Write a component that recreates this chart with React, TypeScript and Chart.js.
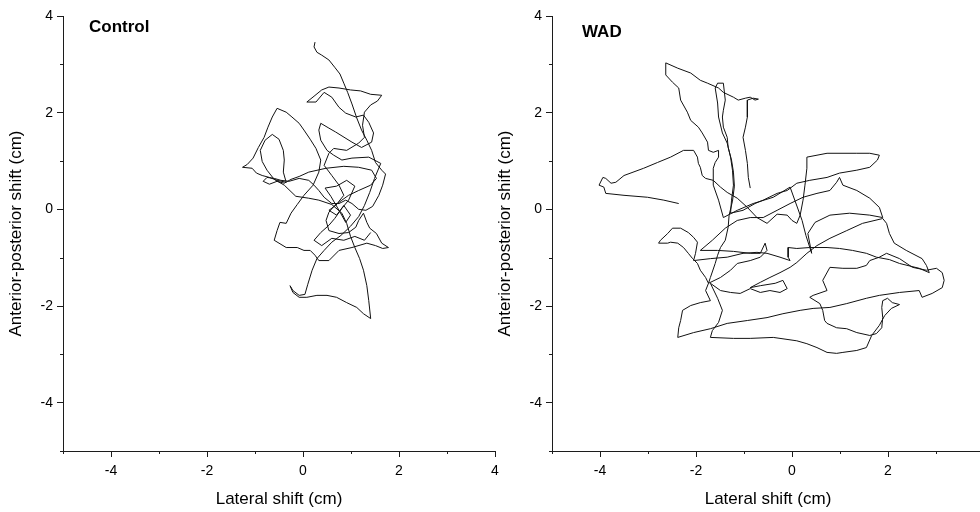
import React, { useEffect, useRef } from 'react';
import { Chart, registerables } from 'chart.js';

Chart.register(...registerables);

// Axis ranges and labelled ticks (cm)
const axisMin = -5;
const axisMax = 4;
const labelledTicks = [-4, -2, 0, 2, 4];

const panelTitles = ['Control', 'WAD'];
const xTitle = 'Lateral shift (cm)';
const yTitle = 'Anterior-posterior shift (cm)';

// Centre-of-pressure trace, Control subject: [lateral, anterior-posterior] (cm)
const controlPath: [number, number][] = [
  [0.25, 3.46], [0.23, 3.36], [0.29, 3.25], [0.39, 3.19], [0.54, 3.09], [0.66, 2.94], [0.77, 2.8], [0.85, 2.61], [0.93, 2.42], [1.02, 2.18],
  [1.12, 1.89], [1.22, 1.64], [1.33, 1.43], [1.43, 1.22], [1.51, 0.97], [1.64, 0.81], [1.72, 0.73], [1.66, 0.5], [1.58, 0.29], [1.45, 0.06],
  [1.31, -0.02], [1.16, 0], [1.02, 0.12], [0.89, 0.19], [0.75, 0.12], [0.6, 0.12], [0.44, 0.25], [0.33, 0.39], [0.23, 0.5], [0.12, 0.6],
  [-0.08, 0.64], [-0.29, 0.58], [-0.46, 0.6], [-0.6, 0.64], [-0.75, 0.66], [-0.83, 0.58], [-0.7, 0.52], [-0.54, 0.58], [-0.39, 0.54], [-0.25, 0.62],
  [-0.08, 0.68], [0.12, 0.77], [0.48, 0.85], [0.85, 0.89], [1.16, 0.87], [1.43, 0.81], [1.53, 0.64], [1.41, 0.5], [1.16, 0.39], [0.95, 0.29],
  [0.81, 0.19], [0.64, 0.06], [0.54, -0.06], [0.48, -0.23], [0.54, -0.44], [0.75, -0.5], [0.95, -0.48], [1.1, -0.37], [1.16, -0.23], [1.26, -0.08],
  [1.33, -0.27], [1.39, -0.39], [1.53, -0.5], [1.64, -0.7], [1.78, -0.79], [1.66, -0.81], [1.51, -0.75], [1.33, -0.7], [1.02, -0.79], [0.75, -0.85],
  [0.54, -1.06], [0.33, -1.06], [0.25, -0.95], [0.15, -0.85], [0.02, -0.85], [-0.12, -0.79], [-0.35, -0.79], [-0.5, -0.7], [-0.6, -0.64], [-0.54, -0.44],
  [-0.48, -0.27], [-0.35, -0.29], [-0.25, -0.08], [-0.12, 0.1], [0.02, 0.29], [0.21, 0.5], [0.33, 0.77], [0.37, 1.02], [0.27, 1.26], [0.15, 1.45],
  [0.02, 1.64], [-0.08, 1.78], [-0.23, 1.91], [-0.35, 2.01], [-0.54, 2.09], [-0.64, 1.91], [-0.73, 1.7], [-0.81, 1.49], [-0.93, 1.28], [-1.04, 1.06],
  [-1.16, 0.93], [-1.26, 0.87], [-1.06, 0.85], [-0.97, 0.75], [-0.85, 0.7], [-0.7, 0.66], [-0.54, 0.6], [-0.35, 0.56], [-0.41, 0.77], [-0.39, 1.02],
  [-0.41, 1.22], [-0.5, 1.45], [-0.64, 1.55], [-0.79, 1.43], [-0.89, 1.22], [-0.85, 0.99], [-0.75, 0.81], [-0.6, 0.62], [-0.39, 0.5], [-0.15, 0.27],
  [0.12, 0.23], [0.33, 0.19], [0.6, 0.1], [0.81, -0.08], [0.91, -0.29], [0.99, -0.56], [1.08, -0.79], [1.18, -1.02], [1.26, -1.26], [1.33, -1.58],
  [1.37, -1.89], [1.41, -2.26], [1.26, -2.16], [1.12, -2.03], [0.91, -1.93], [0.7, -1.82], [0.5, -1.78], [0.29, -1.78], [0.08, -1.82], [-0.08, -1.82],
  [-0.21, -1.72], [-0.27, -1.58], [-0.21, -1.68], [-0.08, -1.78], [0.04, -1.76], [0.1, -1.55], [0.19, -1.26], [0.29, -1.02], [0.44, -0.85], [0.6, -0.68],
  [0.79, -0.54], [0.99, -0.35], [1.16, -0.15], [1.28, 0.08], [1.39, 0.35], [1.49, 0.64], [1.62, 0.95], [1.37, 1.08], [1.02, 1.06], [0.81, 1.02],
  [0.64, 1.12], [0.5, 1.22], [0.37, 1.43], [0.33, 1.64], [0.37, 1.78], [0.54, 1.68], [0.68, 1.6], [1.02, 1.39], [1.22, 1.28], [1.43, 1.39],
  [1.47, 1.58], [1.37, 1.8], [1.26, 1.95], [1.1, 1.91], [0.89, 1.99], [0.75, 2.11], [0.6, 2.32], [0.44, 2.42], [0.27, 2.22], [0.08, 2.22],
  [0.23, 2.34], [0.39, 2.47], [0.54, 2.53], [0.75, 2.51], [0.99, 2.47], [1.2, 2.45], [1.41, 2.38], [1.64, 2.36], [1.55, 2.24], [1.41, 2.16],
  [1.28, 2.01], [1.24, 1.74], [1.28, 1.49], [1.16, 1.37], [0.91, 1.22], [0.64, 1.26], [0.54, 1.16], [0.44, 0.91], [0.6, 0.7], [0.75, 0.5],
  [0.85, 0.29], [0.68, 0.08], [0.54, -0.02], [0.7, -0.12], [0.85, 0.08], [0.99, -0.12], [0.89, -0.27], [0.75, -0.02], [0.58, 0.27], [0.46, 0.44],
  [0.7, 0.48], [0.91, 0.6], [1.08, 0.48], [0.95, 0.19], [0.81, 0.02], [0.66, -0.19], [0.54, -0.33], [0.37, -0.48], [0.23, -0.64], [0.39, -0.75],
  [0.6, -0.6], [0.85, -0.64], [1.08, -0.56], [1.28, -0.64], [1.41, -0.48],
];

// Centre-of-pressure trace, WAD subject: [lateral, anterior-posterior] (cm)
const wadPath: [number, number][] = [
  [-2.36, 0.12], [-2.67, 0.19], [-3.01, 0.25], [-3.5, 0.29], [-3.88, 0.33], [-3.92, 0.46], [-4.02, 0.5], [-3.94, 0.66], [-3.88, 0.64], [-3.77, 0.54],
  [-3.67, 0.56], [-3.5, 0.7], [-3.09, 0.85], [-2.8, 0.97], [-2.53, 1.08], [-2.26, 1.22], [-2.05, 1.22], [-1.97, 1.08], [-1.95, 0.95], [-1.91, 0.87],
  [-1.87, 0.7], [-1.8, 0.64], [-1.64, 0.6], [-1.49, 0.46], [-1.35, 0.35], [-1.14, 0.23], [-0.93, 0.04], [-0.73, -0.17], [-0.52, -0.29], [-0.31, -0.1],
  [-0.1, -0.12], [0, -0.23], [0.1, -0.29],
  [0.17, -0.12], [0.23, 0.19], [0.27, 0.5], [0.31, 0.85], [0.31, 1.08], [0.73, 1.16], [1.35, 1.16], [1.62, 1.16], [1.82, 1.12], [1.78, 1.02],
  [1.62, 0.87], [1.35, 0.81], [0.99, 0.75], [0.73, 0.66], [0.37, 0.6], [0.1, 0.54], [-0.1, 0.39], [-0.31, 0.33], [-0.6, 0.19], [-0.77, 0.12],
  [-1.02, -0.02], [-1.28, -0.08],
  [-1.26, 0.19], [-1.22, 0.5], [-1.24, 0.81], [-1.28, 1.08], [-1.35, 1.37], [-1.45, 1.58], [-1.53, 1.91], [-1.55, 2.2], [-1.6, 2.51], [-1.55, 2.61],
  [-1.43, 2.61], [-1.39, 2.26], [-1.43, 2.05], [-1.45, 1.91], [-1.43, 1.7], [-1.35, 1.49], [-1.33, 1.28], [-1.26, 1.02], [-1.22, 0.77], [-1.2, 0.48],
  [-1.24, 0.17], [-1.31, -0.12], [-1.33, -0.37], [-1.39, -0.64], [-1.49, -0.79], [-1.55, -0.95], [-1.6, -1.12], [-1.7, -1.41], [-1.74, -1.53],
  [-1.8, -1.68], [-1.7, -1.89], [-1.91, -1.93], [-2.11, -1.99], [-2.28, -2.09], [-2.32, -2.3], [-2.36, -2.45], [-2.38, -2.65], [-2.05, -2.55], [-1.7, -2.47],
  [-1.35, -2.36], [-0.93, -2.3], [-0.52, -2.24], [-0.19, -2.16], [0.17, -2.09], [0.44, -2.05], [0.79, -2.03], [1.14, -1.95], [1.55, -1.84], [1.82, -1.78],
  [2.24, -1.72], [2.65, -1.68],
  [2.71, -1.82], [2.92, -1.74], [3.13, -1.62], [3.17, -1.47], [3.13, -1.31], [3.01, -1.22], [2.8, -1.26], [2.51, -1.2], [2.24, -1.02], [1.97, -0.91],
  [1.82, -0.99], [1.62, -1.06], [1.55, -1.16], [1.35, -1.22], [1.06, -1.22], [0.79, -1.2], [0.64, -1.47], [0.73, -1.68], [0.44, -1.78], [0.37, -1.82],
  [0.58, -1.95], [0.64, -2.09], [0.68, -2.3], [0.73, -2.36], [0.93, -2.45], [1.14, -2.47], [1.35, -2.55], [1.62, -2.61], [1.76, -2.57], [1.87, -2.45],
  [1.89, -2.24], [1.87, -2.03], [1.89, -1.89], [1.99, -1.84], [2.09, -1.93],
  [2.24, -1.97], [2.07, -2.05], [1.93, -2.2], [1.82, -2.4], [1.66, -2.61], [1.55, -2.86], [1.35, -2.92], [1.06, -2.96], [0.93, -2.98], [0.73, -2.96],
  [0.52, -2.86], [0.31, -2.78], [0.1, -2.72], [-0.39, -2.65], [-0.87, -2.67], [-1.22, -2.67], [-1.7, -2.65], [-1.66, -2.51], [-1.53, -2.34],
  [-1.45, -2.09], [-1.55, -1.84], [-1.7, -1.53], [-1.49, -1.68], [-1.28, -1.72], [-1.08, -1.74], [-0.87, -1.64], [-0.66, -1.72], [-0.46, -1.68], [-0.25, -1.72],
  [-0.1, -1.64], [-0.19, -1.47], [-0.35, -1.53], [-0.66, -1.58], [-0.87, -1.62], [-0.66, -1.51], [-0.46, -1.41], [-0.25, -1.31], [-0.04, -1.2], [0.1, -1.1],
  [0.31, -0.91], [0.52, -0.75], [0.79, -0.6], [1.14, -0.44], [1.47, -0.29], [1.89, -0.19], [1.97, -0.29], [2.03, -0.5], [2.13, -0.7], [2.38, -0.85],
  [2.71, -1.02], [2.8, -1.16], [2.86, -1.31], [2.65, -1.22], [2.24, -1.12], [2.03, -1.04], [1.76, -0.99], [1.55, -0.91], [1.26, -0.85], [0.99, -0.81],
  [0.73, -0.79], [0.37, -0.79], [0.1, -0.81], [-0.08, -0.79], [-0.08, -0.99], [-0.04, -1.06], [-0.25, -0.99], [-0.52, -0.91], [-0.73, -0.89], [-1.02, -0.91],
  [-1.35, -0.99], [-1.7, -1.02], [-2.05, -1.06], [-2.01, -0.91], [-1.97, -0.68], [-2.05, -0.58], [-2.16, -0.48], [-2.32, -0.39], [-2.49, -0.39], [-2.59, -0.5],
  [-2.74, -0.64], [-2.78, -0.7], [-2.59, -0.7], [-2.53, -0.68], [-2.38, -0.7], [-2.26, -0.79], [-2.16, -0.91], [-2.07, -1.02], [-1.97, -1.12], [-1.91, -1.26],
  [-1.8, -1.41], [-1.74, -1.53], [-1.49, -1.41], [-1.28, -1.26], [-1.14, -1.12], [-0.87, -1.06], [-0.66, -0.99], [-0.52, -0.85], [-0.56, -0.7], [-0.66, -0.91],
  [-0.87, -0.91], [-1.22, -0.87], [-1.55, -0.85], [-1.91, -0.85],
  [-1.66, -0.64], [-1.39, -0.39], [-1.14, -0.23], [-0.87, -0.17], [-0.6, -0.17], [-0.31, -0.02], [-0.04, 0.12], [0.23, 0.25], [0.52, 0.33], [0.79, 0.39],
  [0.93, 0.56], [0.99, 0.66], [1.06, 0.5], [1.35, 0.39], [1.62, 0.23], [1.82, 0.04], [1.89, -0.17], [1.62, -0.12], [1.2, -0.08], [0.79, -0.12],
  [0.48, -0.27], [0.33, -0.5], [0.41, -0.91], [0.29, -0.54], [0.21, -0.23], [-0.04, 0.46], [-0.39, 0.25], [-0.81, 0.12], [-1.14, -0.02], [-1.43, -0.17],
  [-1.53, 0.19], [-1.64, 0.5],
  [-1.64, 0.85], [-1.6, 0.97], [-1.53, 1.08], [-1.53, 1.22], [-1.64, 1.18], [-1.74, 1.22], [-1.76, 1.39], [-1.87, 1.58], [-1.95, 1.7], [-2.11, 1.84],
  [-2.18, 2.01], [-2.32, 2.26], [-2.36, 2.51], [-2.49, 2.63], [-2.63, 2.78], [-2.63, 3.03], [-2.38, 2.92], [-2.11, 2.82], [-1.91, 2.67], [-1.76, 2.61],
  [-1.53, 2.51], [-1.43, 2.42], [-1.22, 2.32], [-1.12, 2.26], [-0.97, 2.3], [-0.87, 2.32], [-0.77, 2.26], [-0.7, 2.28], [-0.81, 2.3], [-0.93, 2.26],
  [-0.93, 1.91], [-0.97, 1.7], [-1.02, 1.49], [-0.97, 1.22], [-0.93, 0.95], [-0.91, 0.66], [-0.87, 0.44],
];

const AXIS = '#1c1c1c';
const FONT = '"Liberation Sans", Arial, Helvetica, sans-serif';

const minorTicks = {
  id: 'minorTicks',
  afterDraw(chart: any) {
    const { ctx } = chart;
    const xs = chart.scales.x;
    const ys = chart.scales.y;
    ctx.save();
    ctx.strokeStyle = AXIS;
    ctx.lineWidth = 1;
    for (let v = Math.ceil(xs.min); v <= xs.max; v++) {
      if (Math.abs(v % 2) !== 1) continue;
      const px = Math.round(xs.getPixelForValue(v)) + 0.5;
      ctx.beginPath();
      ctx.moveTo(px, xs.top);
      ctx.lineTo(px, xs.top + 3);
      ctx.stroke();
    }
    for (let v = Math.ceil(ys.min); v <= ys.max; v++) {
      if (Math.abs(v % 2) !== 1) continue;
      const py = Math.round(ys.getPixelForValue(v)) + 0.5;
      ctx.beginPath();
      ctx.moveTo(ys.right - 3, py);
      ctx.lineTo(ys.right, py);
      ctx.stroke();
    }
    ctx.restore();
  },
};

const panelLabel = {
  id: 'panelLabel',
  afterDraw(chart: any, _args: any, opts: any) {
    const { ctx, chartArea } = chart;
    ctx.save();
    ctx.font = `bold 17px ${FONT}`;
    ctx.fillStyle = '#000';
    ctx.textBaseline = 'middle';
    ctx.textAlign = 'left';
    ctx.fillText(opts.text, chartArea.left + opts.dx, chartArea.top + opts.dy);
    ctx.restore();
  },
};

type PanelProps = {
  path: [number, number][];
  title: string;
  left: number;
  labelDx: number;
  labelDy: number;
  yTitlePad: number;
};

function Panel({ path, title, left, labelDx, labelDy, yTitlePad }: PanelProps) {
  const ref = useRef<HTMLCanvasElement | null>(null);
  useEffect(() => {
    if (!ref.current) return;
    const isLabelled = (v: number) => labelledTicks.includes(v);
    const chart = new Chart(ref.current, {
      type: 'scatter',
      data: {
        datasets: [
          {
            data: path.map(([x, y]) => ({ x, y })),
            showLine: true,
            borderColor: '#111',
            borderWidth: 1,
            pointRadius: 0,
            tension: 0,
          },
        ],
      },
      options: {
        responsive: false,
        animation: false,
        devicePixelRatio: 1,
        layout: { padding: { top: 16, right: 25, left: 0, bottom: 0 } },
        plugins: {
          legend: { display: false },
          tooltip: { enabled: false },
          panelLabel: { text: title, dx: labelDx, dy: labelDy },
        } as any,
        scales: {
          x: {
            type: 'linear',
            min: axisMin,
            max: axisMax,
            afterFit: (s: any) => {
              s.height = 61;
            },
            grid: {
              drawOnChartArea: false,
              drawTicks: true,
              tickLength: 6,
              tickColor: (c: any) => (c.tick && isLabelled(c.tick.value) ? AXIS : 'rgba(0,0,0,0)'),
            },
            border: { display: true, color: AXIS, width: 1 },
            ticks: {
              stepSize: 1,
              autoSkip: false,
              maxRotation: 0,
              padding: 6,
              color: '#000',
              font: { family: FONT, size: 14 },
              callback: (v: any) => (isLabelled(Number(v)) ? String(v) : ''),
            },
            title: {
              display: true,
              text: xTitle,
              color: '#000',
              font: { family: FONT, size: 17 },
              padding: { top: 0, bottom: 2 },
            },
          },
          y: {
            type: 'linear',
            min: axisMin,
            max: axisMax,
            afterFit: (s: any) => {
              s.width = 63;
            },
            grid: {
              drawOnChartArea: false,
              drawTicks: true,
              tickLength: 6,
              tickColor: (c: any) => (c.tick && isLabelled(c.tick.value) ? AXIS : 'rgba(0,0,0,0)'),
            },
            border: { display: true, color: AXIS, width: 1 },
            ticks: {
              stepSize: 1,
              autoSkip: false,
              padding: 4,
              color: '#000',
              font: { family: FONT, size: 14 },
              callback: (v: any) => (isLabelled(Number(v)) ? String(v) : ''),
            },
            title: {
              display: true,
              text: yTitle,
              color: '#000',
              font: { family: FONT, size: 17 },
              padding: { top: yTitlePad, bottom: 0 },
            },
          },
        },
      },
      plugins: [minorTicks, panelLabel],
    });
    return () => chart.destroy();
  }, [path, title, labelDx, labelDy, yTitlePad]);

  return (
    <canvas
      ref={ref}
      width={520}
      height={512}
      style={{ position: 'absolute', left, top: 0, width: 520, height: 512 }}
    />
  );
}

export default function App() {
  return (
    <div
      style={{
        position: 'absolute',
        left: 0,
        top: 0,
        width: 980,
        height: 512,
        overflow: 'hidden',
        background: '#fff',
      }}
    >
      <Panel path={controlPath} title={panelTitles[0]} left={0} labelDx={26} labelDy={11} yTitlePad={6} />
      <Panel path={wadPath} title={panelTitles[1]} left={489} labelDx={30} labelDy={16} yTitlePad={6} />
    </div>
  );
}
